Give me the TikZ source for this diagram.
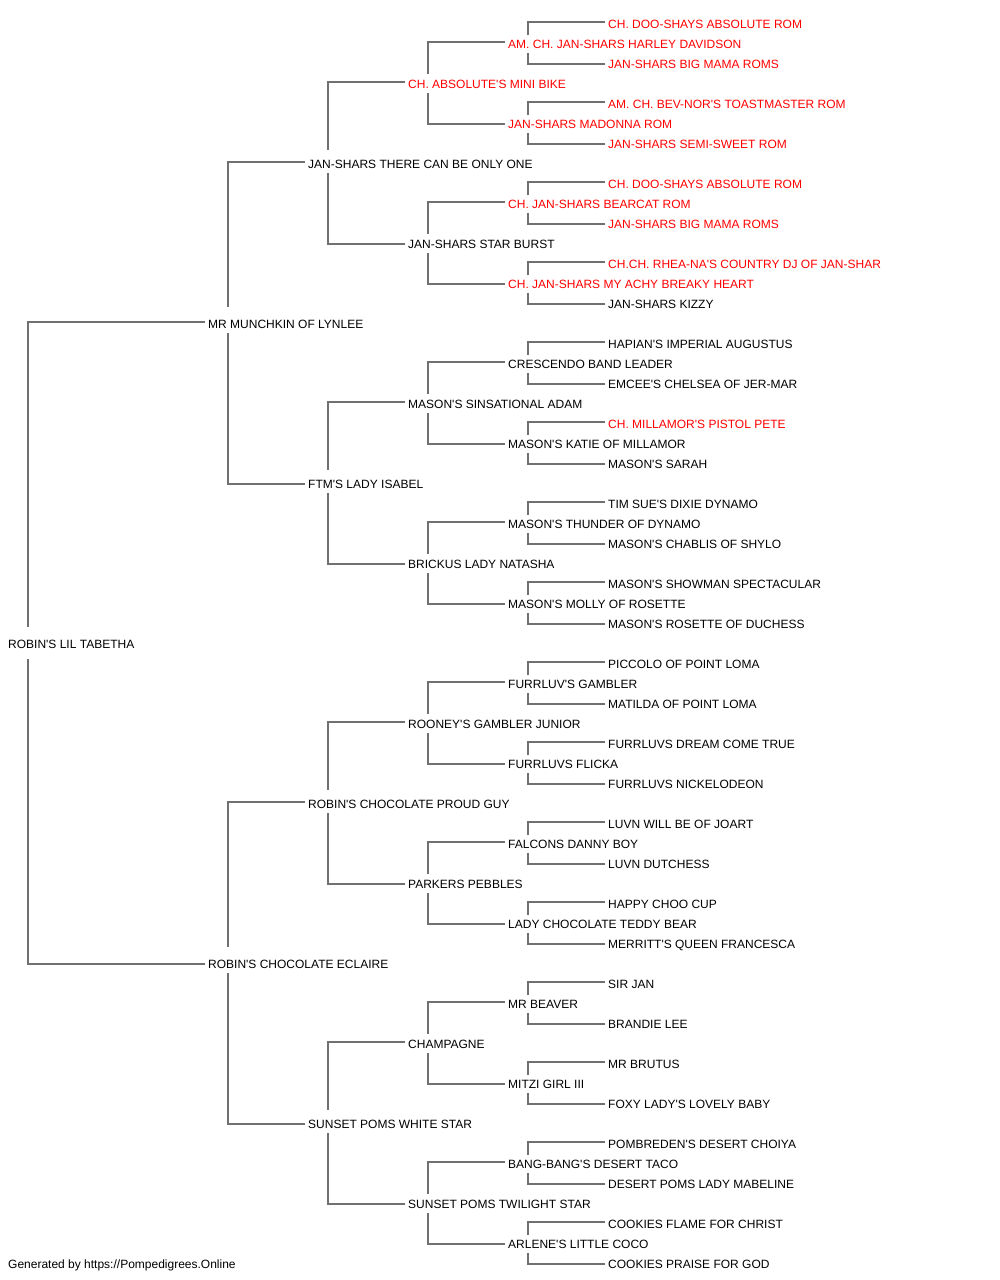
\documentclass[tikz,border=0pt]{standalone}
\usepackage{fontspec}
\setmainfont{Liberation Sans}[Ligatures=TeXOff]
\definecolor{linegray}{HTML}{707070}
\definecolor{champred}{HTML}{FF0000}
\tikzset{
  pname/.style={anchor=west, inner sep=0pt, text height=10pt, text depth=0pt, font=\fontsize{12}{14}\selectfont, text=black},
  pchamp/.style={pname, text=champred},
  conn/.style={draw=linegray, line width=1.4pt}
}
\begin{document}
\begin{tikzpicture}[x=1pt,y=-1pt]
\useasboundingbox (0,0) rectangle (1000,1280);
% root and generation 1
\node[pname] (g0-0) at (8,643) {ROBIN'S LIL TABETHA};
\node[pname] (g1-0) at (208,323) {MR MUNCHKIN OF LYNLEE};
\node[pname] (g1-1) at (208,963) {ROBIN'S CHOCOLATE ECLAIRE};
% generation 2
\node[pname] (g2-0) at (308,163) {JAN-SHARS THERE CAN BE ONLY ONE};
\node[pname] (g2-1) at (308,483) {FTM'S LADY ISABEL};
\node[pname] (g2-2) at (308,803) {ROBIN'S CHOCOLATE PROUD GUY};
\node[pname] (g2-3) at (308,1123) {SUNSET POMS WHITE STAR};
% generation 3
\node[pchamp] (g3-0) at (408,83) {CH. ABSOLUTE'S MINI BIKE};
\node[pname] (g3-1) at (408,243) {JAN-SHARS STAR BURST};
\node[pname] (g3-2) at (408,403) {MASON'S SINSATIONAL ADAM};
\node[pname] (g3-3) at (408,563) {BRICKUS LADY NATASHA};
\node[pname] (g3-4) at (408,723) {ROONEY'S GAMBLER JUNIOR};
\node[pname] (g3-5) at (408,883) {PARKERS PEBBLES};
\node[pname] (g3-6) at (408,1043) {CHAMPAGNE};
\node[pname] (g3-7) at (408,1203) {SUNSET POMS TWILIGHT STAR};
% generation 4
\node[pchamp] (g4-0) at (508,43) {AM. CH. JAN-SHARS HARLEY DAVIDSON};
\node[pchamp] (g4-1) at (508,123) {JAN-SHARS MADONNA ROM};
\node[pchamp] (g4-2) at (508,203) {CH. JAN-SHARS BEARCAT ROM};
\node[pchamp] (g4-3) at (508,283) {CH. JAN-SHARS MY ACHY BREAKY HEART};
\node[pname] (g4-4) at (508,363) {CRESCENDO BAND LEADER};
\node[pname] (g4-5) at (508,443) {MASON'S KATIE OF MILLAMOR};
\node[pname] (g4-6) at (508,523) {MASON'S THUNDER OF DYNAMO};
\node[pname] (g4-7) at (508,603) {MASON'S MOLLY OF ROSETTE};
\node[pname] (g4-8) at (508,683) {FURRLUV'S GAMBLER};
\node[pname] (g4-9) at (508,763) {FURRLUVS FLICKA};
\node[pname] (g4-10) at (508,843) {FALCONS DANNY BOY};
\node[pname] (g4-11) at (508,923) {LADY CHOCOLATE TEDDY BEAR};
\node[pname] (g4-12) at (508,1003) {MR BEAVER};
\node[pname] (g4-13) at (508,1083) {MITZI GIRL III};
\node[pname] (g4-14) at (508,1163) {BANG-BANG'S DESERT TACO};
\node[pname] (g4-15) at (508,1243) {ARLENE'S LITTLE COCO};
% generation 5
\node[pchamp] (g5-0) at (608,23) {CH. DOO-SHAYS ABSOLUTE ROM};
\node[pchamp] (g5-1) at (608,63) {JAN-SHARS BIG MAMA ROMS};
\node[pchamp] (g5-2) at (608,103) {AM. CH. BEV-NOR'S TOASTMASTER ROM};
\node[pchamp] (g5-3) at (608,143) {JAN-SHARS SEMI-SWEET ROM};
\node[pchamp] (g5-4) at (608,183) {CH. DOO-SHAYS ABSOLUTE ROM};
\node[pchamp] (g5-5) at (608,223) {JAN-SHARS BIG MAMA ROMS};
\node[pchamp] (g5-6) at (608,263) {CH.CH. RHEA-NA'S COUNTRY DJ OF JAN-SHAR};
\node[pname] (g5-7) at (608,303) {JAN-SHARS KIZZY};
\node[pname] (g5-8) at (608,343) {HAPIAN'S IMPERIAL AUGUSTUS};
\node[pname] (g5-9) at (608,383) {EMCEE'S CHELSEA OF JER-MAR};
\node[pchamp] (g5-10) at (608,423) {CH. MILLAMOR'S PISTOL PETE};
\node[pname] (g5-11) at (608,463) {MASON'S SARAH};
\node[pname] (g5-12) at (608,503) {TIM SUE'S DIXIE DYNAMO};
\node[pname] (g5-13) at (608,543) {MASON'S CHABLIS OF SHYLO};
\node[pname] (g5-14) at (608,583) {MASON'S SHOWMAN SPECTACULAR};
\node[pname] (g5-15) at (608,623) {MASON'S ROSETTE OF DUCHESS};
\node[pname] (g5-16) at (608,663) {PICCOLO OF POINT LOMA};
\node[pname] (g5-17) at (608,703) {MATILDA OF POINT LOMA};
\node[pname] (g5-18) at (608,743) {FURRLUVS DREAM COME TRUE};
\node[pname] (g5-19) at (608,783) {FURRLUVS NICKELODEON};
\node[pname] (g5-20) at (608,823) {LUVN WILL BE OF JOART};
\node[pname] (g5-21) at (608,863) {LUVN DUTCHESS};
\node[pname] (g5-22) at (608,903) {HAPPY CHOO CUP};
\node[pname] (g5-23) at (608,943) {MERRITT'S QUEEN FRANCESCA};
\node[pname] (g5-24) at (608,983) {SIR JAN};
\node[pname] (g5-25) at (608,1023) {BRANDIE LEE};
\node[pname] (g5-26) at (608,1063) {MR BRUTUS};
\node[pname] (g5-27) at (608,1103) {FOXY LADY'S LOVELY BABY};
\node[pname] (g5-28) at (608,1143) {POMBREDEN'S DESERT CHOIYA};
\node[pname] (g5-29) at (608,1183) {DESERT POMS LADY MABELINE};
\node[pname] (g5-30) at (608,1223) {COOKIES FLAME FOR CHRIST};
\node[pname] (g5-31) at (608,1263) {COOKIES PRAISE FOR GOD};
% footer
\node[pname] (footer) at (8,1263) {Generated by https://Pompedigrees.Online};
% connectors
\draw[conn] ([xshift=-3pt,yshift=1pt]g1-0.west) -| ([xshift=20pt,yshift=16pt]g0-0.west);
\draw[conn] ([xshift=-3pt,yshift=-1pt]g1-1.west) -| ([xshift=20pt,yshift=-16pt]g0-0.west);
\foreach \k in {0,1}{
  \pgfmathtruncatemacro\s{2*\k}\pgfmathtruncatemacro\d{2*\k+1}
  \draw[conn] ([xshift=-3pt,yshift=1pt]g2-\s.west) -| ([xshift=20pt,yshift=16pt]g1-\k.west);
  \draw[conn] ([xshift=-3pt,yshift=-1pt]g2-\d.west) -| ([xshift=20pt,yshift=-10pt]g1-\k.west);
}
\foreach \k in {0,...,3}{
  \pgfmathtruncatemacro\s{2*\k}\pgfmathtruncatemacro\d{2*\k+1}
  \draw[conn] ([xshift=-3pt,yshift=1pt]g3-\s.west) -| ([xshift=20pt,yshift=13pt]g2-\k.west);
  \draw[conn] ([xshift=-3pt,yshift=-1pt]g3-\d.west) -| ([xshift=20pt,yshift=-10pt]g2-\k.west);
}
\foreach \k in {0,...,7}{
  \pgfmathtruncatemacro\s{2*\k}\pgfmathtruncatemacro\d{2*\k+1}
  \draw[conn] ([xshift=-3pt,yshift=1pt]g4-\s.west) -| ([xshift=20pt,yshift=9pt]g3-\k.west);
  \draw[conn] ([xshift=-3pt,yshift=-1pt]g4-\d.west) -| ([xshift=20pt,yshift=-10pt]g3-\k.west);
}
\foreach \k in {0,...,15}{
  \pgfmathtruncatemacro\s{2*\k}\pgfmathtruncatemacro\d{2*\k+1}
  \draw[conn] ([xshift=-3pt,yshift=1pt]g5-\s.west) -| ([xshift=20pt,yshift=8pt]g4-\k.west);
  \draw[conn] ([xshift=-3pt,yshift=-1pt]g5-\d.west) -| ([xshift=20pt,yshift=-10pt]g4-\k.west);
}
\end{tikzpicture}
\end{document}
